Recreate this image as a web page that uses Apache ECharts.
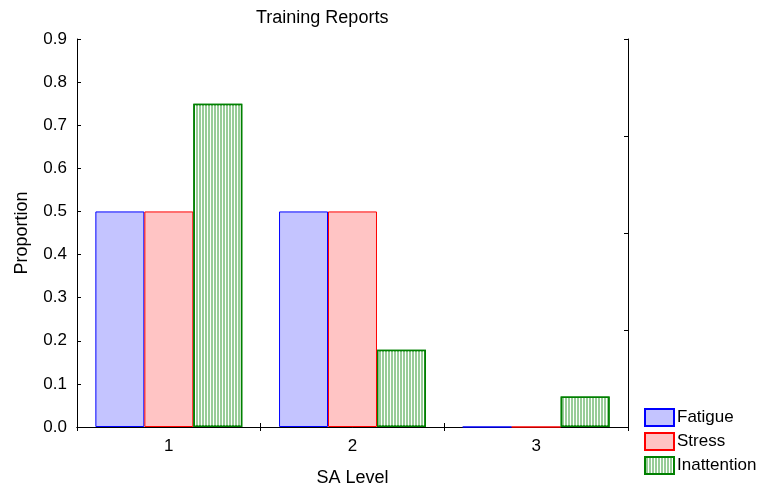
<!DOCTYPE html>
<html><head><meta charset="utf-8">
<script src="https://cdn.jsdelivr.net/npm/echarts@6/dist/echarts.min.js"></script>
<style>html,body{margin:0;padding:0;background:#fff}#c{width:759px;height:490px}</style>
</head><body><div id="c"></div>
<script>
const categories = ['1', '2', '3'];
const fatigue = [0.5, 0.5, 0];
const stress = [0.5, 0.5, 0];
const inattention = [0.75, 0.179, 0.071];
const yTicks = [0, 0.1, 0.2, 0.3, 0.4, 0.5, 0.6, 0.7, 0.8, 0.9];

const font = 'Liberation Sans, Arial, sans-serif';
const chart = echarts.init(document.getElementById('c'), null, {renderer: 'canvas'});
const axisLine = {show: true, lineStyle: {color: '#000', width: 1}};
const tick = {show: true, inside: true, length: 4, lineStyle: {color: '#000'}};
chart.setOption({
  animation: false,
  backgroundColor: '#fff',
  title: {text: 'Training Reports', left: 251, top: 4,
    textStyle: {fontFamily: font, fontSize: 18, fontWeight: 'normal', color: '#000'}},
  legend: {
    orient: 'vertical', left: 639, top: 403, itemWidth: 29, itemHeight: 17, itemGap: 5,
    icon: 'rect',
    textStyle: {fontFamily: font, fontSize: 17, lineHeight: 17, color: '#000', padding: [0, 0, 0, -2]},
    data: ['Fatigue', 'Stress', 'Inattention']
  },
  grid: {left: 77, right: 131, top: 39, bottom: 63, containLabel: false, outerBoundsMode: 'none'},
  xAxis: [{
    type: 'category', data: categories, position: 'bottom',
    name: 'SA Level', nameLocation: 'middle', nameGap: 42,
    nameTextStyle: {fontFamily: font, fontSize: 18, color: '#000'},
    axisLine: axisLine, axisTick: tick,
    axisLabel: {fontFamily: font, fontSize: 17, color: '#000', margin: 11}
  }, {
    type: 'category', data: categories, position: 'top',
    axisLine: axisLine, axisTick: tick,
    axisLabel: {show: false}
  }],
  yAxis: [{
    type: 'value', min: 0, max: 0.9, interval: 0.1, position: 'left',
    name: 'Proportion', nameLocation: 'middle', nameGap: 46,
    nameTextStyle: {fontFamily: font, fontSize: 18, color: '#000'},
    axisLine: axisLine, axisTick: tick,
    splitLine: {show: false},
    axisLabel: {fontFamily: font, fontSize: 17, color: '#000', margin: 10,
      formatter: v => yTicks.find(t => Math.abs(t - v) < 1e-9).toFixed(1)}
  }, {
    type: 'value', min: 0, max: 4, interval: 1, position: 'right',
    axisLine: axisLine, axisTick: tick,
    splitLine: {show: false}, axisLabel: {show: false}
  }],
  series: [{
    name: 'Fatigue', type: 'bar', data: fatigue, barGap: '0%', barCategoryGap: '20%',
    itemStyle: {color: '#c4c4ff', borderColor: '#0000ff', borderWidth: 1}
  }, {
    name: 'Stress', type: 'bar', data: stress, barGap: '0%', barCategoryGap: '20%',
    itemStyle: {color: '#ffc4c4', borderColor: '#ff0000', borderWidth: 1}
  }, {
    name: 'Inattention', type: 'bar', data: inattention, barGap: '0%', barCategoryGap: '20%',
    itemStyle: {color: '#99cc99', borderColor: '#008000', borderWidth: 1.5,
      decal: {symbol: 'rect', color: '#ffffff', dashArrayX: [1, 2], dashArrayY: [10, 0], symbolSize: 1, rotation: 0}}
  }]
});
</script></body></html>
